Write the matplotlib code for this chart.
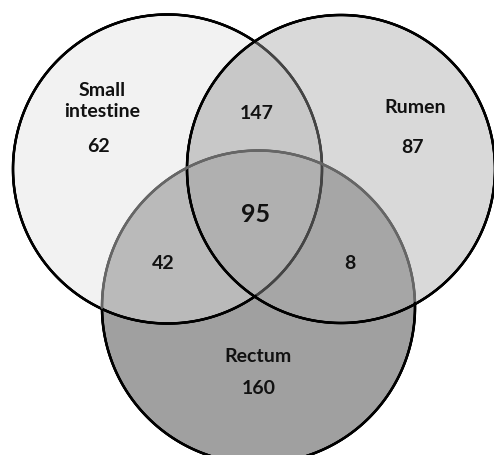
import numpy as np
import matplotlib
matplotlib.use('Agg')
import matplotlib.pyplot as plt
from matplotlib.patches import Circle, Polygon
from matplotlib.collections import LineCollection

# set names and region counts
set_names = ['Small\nintestine', 'Rumen', 'Rectum']
only_counts = [62, 87, 160]
pair_counts = {'si_rumen': 147, 'si_rectum': 42, 'rumen_rectum': 8}
all_count = 95

# circle geometry in pixel coords (x, y, r)
circles = [(167.5, 170, 154.5), (341, 170, 154), (258.5, 308, 156.5)]

only_colors = ['#f2f2f2', '#d9d9d9', '#a0a0a0']
pair_colors = {(0, 1): '#c8c8c8', (0, 2): '#bababa', (1, 2): '#a6a6a6'}
all_color = '#b0b0b0'


def inside(p, c, tol=1e-6):
    return np.hypot(p[:, 0] - c[0], p[:, 1] - c[1]) <= c[2] + tol


def intersect_poly(idx):
    # intersection of circles is convex: collect boundary points, sort by angle
    pts = []
    t = np.linspace(0, 2 * np.pi, 3000)
    for i in idx:
        cx, cy, r = circles[i]
        p = np.column_stack([cx + r * np.cos(t), cy + r * np.sin(t)])
        mask = np.ones(len(p), bool)
        for j in idx:
            if j != i:
                mask &= inside(p, circles[j])
        pts.append(p[mask])
    pts = np.concatenate(pts)
    c = pts.mean(axis=0)
    ang = np.arctan2(pts[:, 1] - c[1], pts[:, 0] - c[0])
    return pts[np.argsort(ang)]


fig = plt.figure(figsize=(4.94, 4.56), dpi=100)
ax = fig.add_axes([0, 0, 1, 1])
ax.set_xlim(0, 494)
ax.set_ylim(456, 0)
ax.set_aspect('equal')
ax.axis('off')

# base fills
for (cx, cy, r), col in zip([circles[2], circles[0], circles[1]],
                            [only_colors[2], only_colors[0], only_colors[1]]):
    ax.add_patch(Circle((cx, cy), r, facecolor=col, edgecolor='none'))
for pair, col in pair_colors.items():
    ax.add_patch(Polygon(intersect_poly(pair), closed=True, facecolor=col,
                         edgecolor='none'))
ax.add_patch(Polygon(intersect_poly((0, 1, 2)), closed=True,
                     facecolor=all_color, edgecolor='none'))

# outlines, lighter where they pass under another circle
t = np.linspace(0, 2 * np.pi, 1441)
for i, (cx, cy, r) in enumerate(circles):
    p = np.column_stack([cx + r * np.cos(t), cy + r * np.sin(t)])
    mid = (p[:-1] + p[1:]) / 2
    cols = np.array(['#000000'] * len(mid), dtype=object)
    if i == 2:
        m = inside(mid, circles[0], -1) | inside(mid, circles[1], -1)
        cols[m] = '#666666'
    elif i == 0:
        m = inside(mid, circles[1], -1)
        cols[m] = '#444444'
    segs = np.stack([p[:-1], p[1:]], axis=1)
    ax.add_collection(LineCollection(segs, colors=list(cols), linewidths=1.8,
                                     capstyle='round'))

font = dict(family=['Lato', 'DejaVu Sans'], fontweight='bold', color='#111111',
            ha='center', va='center')
ax.text(102, 101, set_names[0], fontsize=14, linespacing=1.35, **font)
ax.text(98, 147, str(only_counts[0]), fontsize=14, **font)
ax.text(415, 108, set_names[1], fontsize=14, **font)
ax.text(413, 148, str(only_counts[1]), fontsize=14, **font)
ax.text(258, 357, set_names[2], fontsize=14, **font)
ax.text(259, 389, str(only_counts[2]), fontsize=14, **font)
ax.text(257, 114, str(pair_counts['si_rumen']), fontsize=14, **font)
ax.text(163, 264, str(pair_counts['si_rectum']), fontsize=14, **font)
ax.text(350, 264, str(pair_counts['rumen_rectum']), fontsize=14, **font)
ax.text(256, 215, str(all_count), fontsize=18, **font)

fig.savefig('out.png', dpi=100)
